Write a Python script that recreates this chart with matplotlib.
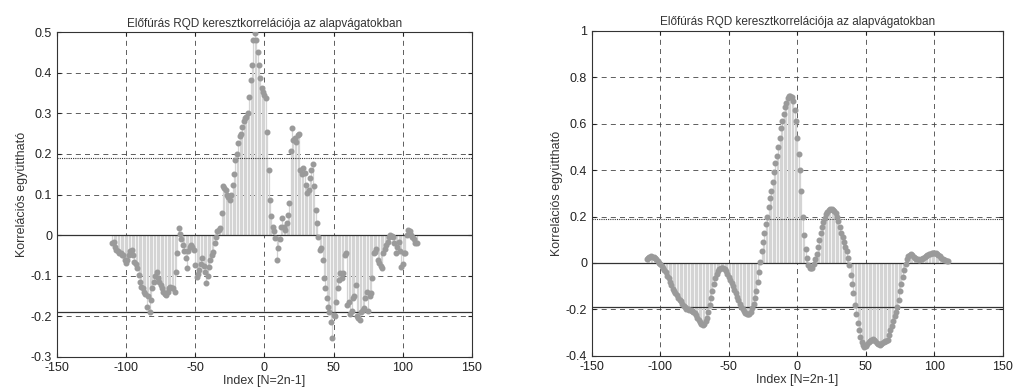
import numpy as np
import matplotlib
matplotlib.use("Agg")
import matplotlib.pyplot as plt
from matplotlib.ticker import FuncFormatter

plt.rcParams['font.family'] = ['Liberation Sans', 'DejaVu Sans']

# === Data ===
lags = list(range(-110, 111))

# left panel: noisy cross-correlation
corr_left = [
    -0.020, -0.018, -0.030, -0.036, -0.040, -0.045, -0.045, -0.050, -0.049, -0.060,   # -110..-101
    -0.069, -0.060, -0.050, -0.040, -0.036, -0.050, -0.065, -0.072, -0.080, -0.098,   # -100..-91
    -0.115, -0.127, -0.130, -0.139, -0.145, -0.176, -0.151, -0.190, -0.160, -0.130,   # -90..-81
    -0.115, -0.100, -0.090, -0.106, -0.115, -0.123, -0.130, -0.139, -0.145, -0.147,   # -80..-71
    -0.140, -0.131, -0.128, -0.130, -0.131, -0.140, -0.090, -0.045, 0.017, 0.004,     # -70..-61
    -0.010, -0.024, -0.040, -0.057, -0.082, -0.040, -0.030, -0.024, -0.030, -0.036,   # -60..-51
    -0.073, -0.102, -0.095, -0.086, -0.070, -0.057, -0.075, -0.090, -0.119, -0.100,   # -50..-41
    -0.078, -0.060, -0.050, -0.041, -0.020, -0.005, 0.009, 0.012, 0.017, 0.054,       # -40..-31
    0.120, 0.115, 0.111, 0.100, 0.095, 0.087, 0.099, 0.124, 0.150, 0.185,             # -30..-21
    0.200, 0.226, 0.243, 0.250, 0.267, 0.280, 0.288, 0.292, 0.300, 0.341,             # -20..-11
    0.382, 0.419, 0.480, 0.497, 0.480, 0.452, 0.420, 0.386, 0.362, 0.353,             # -10..-1
    0.345,                                                                            # 0
    0.337, 0.255, 0.160, 0.087, 0.046, 0.021, 0.010, -0.008, -0.061, -0.032,          # 1..10
    -0.010, 0.020, 0.041, 0.021, 0.013, 0.030, 0.050, 0.078, 0.206, 0.263,            # 11..20
    0.234, 0.238, 0.230, 0.247, 0.250, 0.160, 0.150, 0.165, 0.152, 0.124,             # 21..30
    0.103, 0.110, 0.140, 0.160, 0.175, 0.120, 0.062, 0.029, -0.004, -0.036,           # 31..40
    -0.032, -0.061, -0.106, -0.131, -0.156, -0.176, -0.190, -0.213, -0.254, -0.197,   # 41..50
    -0.200, -0.164, -0.131, -0.110, -0.094, -0.106, -0.094, -0.049, -0.045, -0.172,   # 51..60
    -0.164, -0.193, -0.188, -0.156, -0.150, -0.123, -0.200, -0.205, -0.209, -0.190,   # 61..70
    -0.185, -0.180, -0.156, -0.139, -0.188, -0.150, -0.143, -0.106, -0.045, -0.041,   # 71..80
    -0.035, -0.060, -0.069, -0.077, -0.080, -0.045, -0.035, -0.024, -0.016, -0.005,   # 81..90
    0.000, -0.003, -0.005, -0.020, -0.045, -0.030, -0.016, -0.040, -0.078, -0.070,    # 91..100
    -0.045, -0.045, 0.000, 0.013, 0.010, 0.000, -0.005, -0.010, -0.020, -0.020,       # 101..110
]

# right panel: smooth cross-correlation
corr_right = [
    0.015, 0.020, 0.025, 0.028, 0.027, 0.025, 0.020, 0.015, 0.008, 0.002,             # -110..-101
    -0.005, -0.012, -0.020, -0.030, -0.040, -0.055, -0.065, -0.080, -0.095, -0.110,   # -100..-91
    -0.120, -0.130, -0.140, -0.150, -0.160, -0.165, -0.175, -0.185, -0.190, -0.197,   # -90..-81
    -0.200, -0.202, -0.203, -0.205, -0.210, -0.215, -0.225, -0.235, -0.245, -0.255,   # -80..-71
    -0.262, -0.268, -0.262, -0.250, -0.235, -0.210, -0.180, -0.150, -0.120, -0.090,   # -70..-61
    -0.065, -0.048, -0.035, -0.028, -0.022, -0.020, -0.022, -0.028, -0.036, -0.048,   # -60..-51
    -0.060, -0.075, -0.088, -0.100, -0.115, -0.130, -0.145, -0.160, -0.175, -0.188,   # -50..-41
    -0.198, -0.207, -0.214, -0.219, -0.221, -0.218, -0.210, -0.195, -0.175, -0.150,   # -40..-31
    -0.120, -0.080, -0.040, 0.005, 0.050, 0.090, 0.130, 0.170, 0.200, 0.240,          # -30..-21
    0.280, 0.310, 0.350, 0.390, 0.430, 0.460, 0.500, 0.540, 0.580, 0.610,             # -20..-11
    0.640, 0.670, 0.690, 0.710, 0.720, 0.720, 0.715, 0.700, 0.660, 0.610,             # -10..-1
    0.540,                                                                            # 0
    0.470, 0.400, 0.310, 0.200, 0.120, 0.060, 0.020, -0.010, -0.020, -0.022,          # 1..10
    -0.020, -0.005, 0.015, 0.040, 0.070, 0.100, 0.130, 0.155, 0.175, 0.195,           # 11..20
    0.210, 0.220, 0.228, 0.232, 0.233, 0.230, 0.225, 0.215, 0.200, 0.180,             # 21..30
    0.155, 0.130, 0.110, 0.090, 0.070, 0.050, 0.020, -0.010, -0.050, -0.090,          # 31..40
    -0.130, -0.180, -0.220, -0.260, -0.290, -0.320, -0.340, -0.355, -0.362, -0.358,   # 41..50
    -0.350, -0.342, -0.335, -0.330, -0.328, -0.330, -0.337, -0.345, -0.350, -0.352,   # 51..60
    -0.350, -0.345, -0.340, -0.335, -0.335, -0.330, -0.310, -0.290, -0.270, -0.250,   # 61..70
    -0.230, -0.210, -0.190, -0.160, -0.120, -0.090, -0.060, -0.030, -0.005, 0.015,    # 71..80
    0.028, 0.035, 0.037, 0.033, 0.027, 0.020, 0.017, 0.015, 0.014, 0.015,             # 81..90
    0.017, 0.020, 0.025, 0.030, 0.035, 0.038, 0.040, 0.042, 0.043, 0.043,             # 91..100
    0.042, 0.038, 0.033, 0.028, 0.023, 0.018, 0.014, 0.011, 0.010, 0.010,             # 101..110
]

conf_bound = 0.19   # approx 2/sqrt(111)

title_text = "Előfúrás RQD keresztkorrelációja az alapvágatokban"
xlab = "Index [N=2n-1]"
ylab = "Korrelációs együttható"

stem_col = "#d4d4d4"
mark_col = "#9a9a9a"
grid_col = "#444444"


def fmt(v, pos):
    s = "%g" % round(v, 3)
    return "0" if s == "-0" else s


def draw_panel(ax, vals, ylim, yticks):
    ax.vlines(lags, 0, vals, color=stem_col, lw=0.9, zorder=2)
    ax.plot(lags, vals, "o", ms=3.3, color=mark_col, mec=mark_col, zorder=3)
    ax.axhline(0, color="#333333", lw=0.9, zorder=2)
    ax.axhline(conf_bound, color="#333333", lw=0.8, ls=(0, (1, 1)), zorder=2)
    ax.axhline(-conf_bound, color="#333333", lw=0.9, zorder=2)
    ax.set_xlim(-150, 150)
    ax.set_ylim(*ylim)
    ax.set_xticks(range(-150, 151, 50))
    ax.set_yticks(yticks)
    ax.xaxis.set_major_formatter(FuncFormatter(fmt))
    ax.yaxis.set_major_formatter(FuncFormatter(fmt))
    ax.grid(True, color=grid_col, ls=(0, (6, 5)), lw=0.6)
    ax.tick_params(direction="in", length=3, labelsize=9, colors="#222222",
                   top=True, right=True)
    for s in ax.spines.values():
        s.set_color("#333333")
        s.set_linewidth(0.8)
    ax.set_title(title_text, fontsize=8.5, color="#333333", pad=4)
    ax.set_xlabel(xlab, fontsize=9, color="#333333", labelpad=1)
    ax.set_ylabel(ylab, fontsize=9, color="#333333", labelpad=2)


fig = plt.figure(figsize=(10.17, 3.91), dpi=100)
ax1 = fig.add_axes([0.056, 0.087, 0.408, 0.831])
ax2 = fig.add_axes([0.582, 0.090, 0.404, 0.831])

draw_panel(ax1, corr_left, (-0.3, 0.5), np.arange(-0.3, 0.51, 0.1))
draw_panel(ax2, corr_right, (-0.4, 1.0), np.arange(-0.4, 1.01, 0.2))

fig.savefig("out.png", dpi=100)
